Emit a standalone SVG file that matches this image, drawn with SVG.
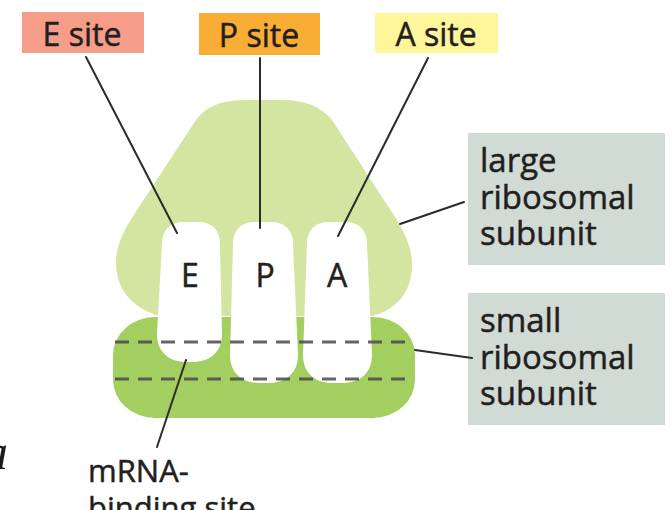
<svg xmlns="http://www.w3.org/2000/svg" width="672" height="510" viewBox="0 0 672 510">
  <style>
    .lbl { font-family: "Open Sans", "Noto Sans", "Liberation Sans", sans-serif; fill: #231f20; stroke: #231f20; stroke-width: 0.5; }
    .site { font-size: 32px; }
    .side { font-size: 33px; }
    .pill { fill: #ffffff; }
    .lead { stroke: #2b2b2b; stroke-width: 2; fill: none; stroke-linecap: round; }
    .dash { stroke: #4a4a4a; stroke-opacity: 0.85; stroke-width: 3; stroke-dasharray: 14 9; fill: none; }
  </style>

  <rect width="672" height="510" fill="#ffffff"/>

  <!-- stray italic glyph at the left margin -->
  <text x="-17" y="469" font-family="'Liberation Serif', serif" font-style="italic" font-size="50" fill="#1a1a1a">a</text>

  <!-- site labels -->
  <g id="e-site">
    <rect x="22" y="12" width="122" height="41" fill="#f59d88"/>
    <text class="lbl site" x="82" y="46" text-anchor="middle">E site</text>
  </g>
  <g id="p-site">
    <rect x="199" y="13" width="121" height="42" fill="#f9ad35"/>
    <text class="lbl site" x="259" y="47" text-anchor="middle">P site</text>
  </g>
  <g id="a-site">
    <rect x="375" y="13" width="123" height="40" fill="#fff59b"/>
    <text class="lbl site" x="436" y="46" text-anchor="middle">A site</text>
  </g>

  <!-- ribosome body -->
  <g id="large-subunit">
    <path d="M 160,316 C 132,308 116,290 116,262 C 116,245 124,230 135,213 L 196,120 C 208,104 225,100 248,100 L 282,100 C 305,100 320,106 332,120 L 395,217 C 405,233 412,248 412,265 C 412,292 396,310 372,316 Z" fill="#d4e4a1"/>
  </g>
  <g id="small-subunit">
    <rect x="113" y="317" width="302" height="101" rx="42" ry="38" fill="#a3cf61"/>
  </g>

  <g id="pocket-e">
    <path class="pill" d="M 162,244 C 162,230 170,222 184,222 L 198,222 C 212,222 220,230 220,244 L 222,334 C 222,352 210,362 192,362 L 187,362 C 169,362 157,352 157,334 Z"/>
    <text class="lbl" x="190" y="287" font-size="32" text-anchor="middle">E</text>
  </g>
  <g id="pocket-p">
    <path class="pill" d="M 233,244 C 233,230 241,222 255,222 L 271,222 C 285,222 293,230 293,244 L 298,355 C 298,373 286,383 268,383 L 260,383 C 242,383 230,373 230,355 Z"/>
    <text class="lbl" x="265" y="287" font-size="32" text-anchor="middle">P</text>
  </g>
  <g id="pocket-a">
    <path class="pill" d="M 307,244 C 307,230 315,222 329,222 L 345,222 C 359,222 367,230 367,244 L 372,355 C 372,373 360,383 342,383 L 333,383 C 315,383 303,373 303,355 Z"/>
    <text class="lbl" x="337" y="287" font-size="32" text-anchor="middle">A</text>
  </g>

  <!-- mRNA channel -->
  <g id="mrna-channel">
    <line class="dash" x1="115" y1="342" x2="413" y2="342"/>
    <line class="dash" x1="115" y1="379" x2="413" y2="379"/>
  </g>

  <!-- side labels -->
  <g id="large-label">
    <rect x="468" y="133" width="197" height="132" fill="#d1dbd5"/>
    <text class="lbl side" x="480" y="172">large</text>
    <text class="lbl side" x="480" y="209">ribosomal</text>
    <text class="lbl side" x="480" y="245">subunit</text>
  </g>
  <g id="small-label">
    <rect x="468" y="293" width="197" height="132" fill="#d1dbd5"/>
    <text class="lbl side" x="480" y="332">small</text>
    <text class="lbl side" x="480" y="369">ribosomal</text>
    <text class="lbl side" x="480" y="405">subunit</text>
  </g>
  <g id="mrna-label">
    <text class="lbl" x="88" y="482" font-size="31">mRNA-</text>
    <text class="lbl" x="88" y="519" font-size="31">binding site</text>
  </g>

  <!-- leader lines -->
  <g id="connectors">
    <line class="lead" x1="86" y1="57" x2="177" y2="233"/>
    <line class="lead" x1="260" y1="58" x2="260" y2="228"/>
    <line class="lead" x1="428" y1="58" x2="338" y2="236"/>
    <line class="lead" x1="400" y1="224" x2="464" y2="202"/>
    <line class="lead" x1="415" y1="350" x2="472" y2="358"/>
    <line class="lead" x1="186" y1="360" x2="157" y2="447"/>
  </g>
</svg>
